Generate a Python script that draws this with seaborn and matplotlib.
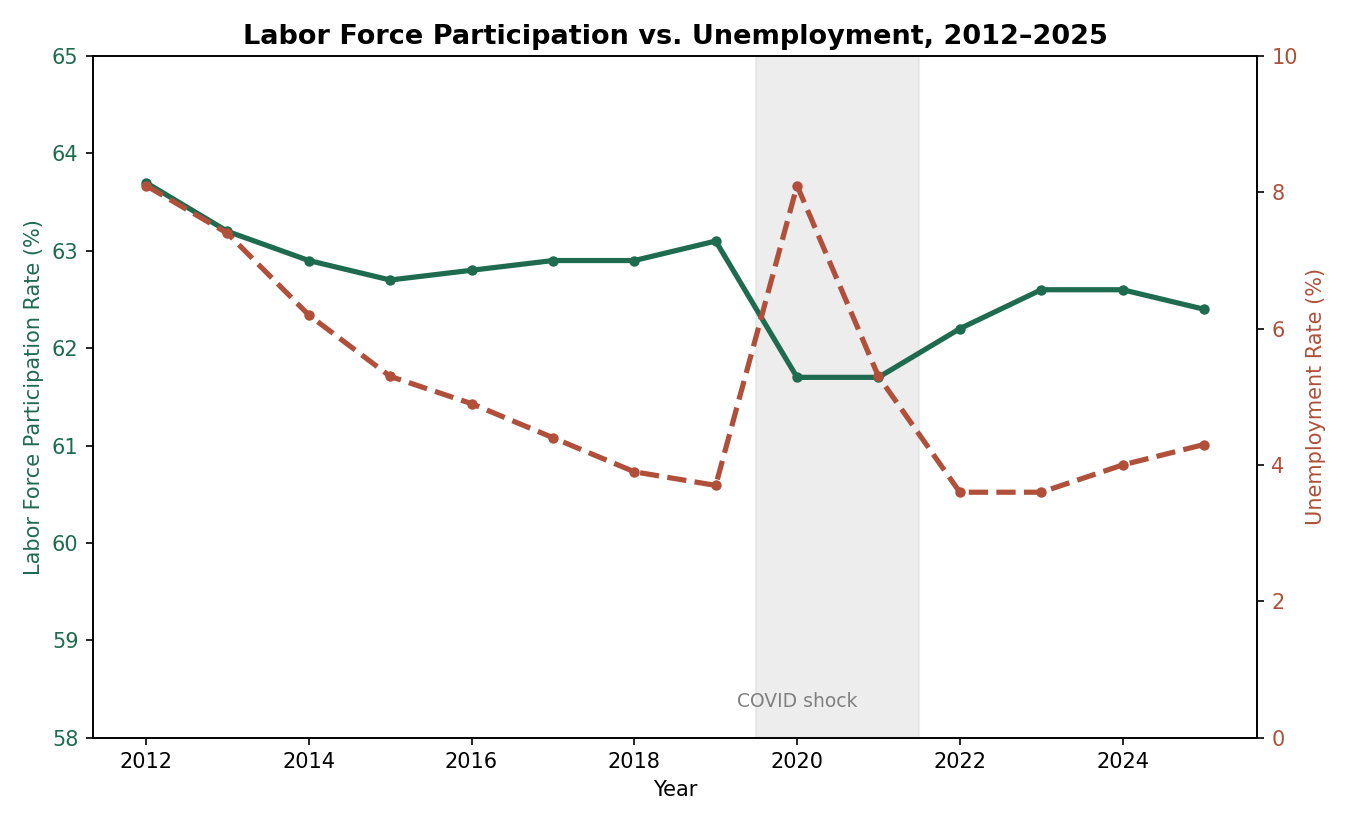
import matplotlib
matplotlib.use("Agg")
import matplotlib.pyplot as plt
import pandas as pd
import seaborn as sns

years = [2012, 2013, 2014, 2015, 2016, 2017, 2018, 2019, 2020, 2021, 2022, 2023, 2024, 2025]
participation = [63.7, 63.2, 62.9, 62.7, 62.8, 62.9, 62.9, 63.1, 61.7, 61.7, 62.2, 62.6, 62.6, 62.4]
unemployment = [8.1, 7.4, 6.2, 5.3, 4.9, 4.4, 3.9, 3.7, 8.1, 5.3, 3.6, 3.6, 4.0, 4.3]

GREEN = "#1f6b4f"
RED = "#b0503a"

df = pd.DataFrame({"Year": years, "lfpr": participation, "unemp": unemployment})

# plain matplotlib-like look: black text, thin spines, short ticks
sns.set_theme(style="ticks", rc={
    "axes.edgecolor": "black",
    "axes.linewidth": 0.8,
    "text.color": "black",
    "axes.labelcolor": "black",
    "xtick.color": "black",
    "ytick.color": "black",
    "xtick.major.size": 3.5,
    "ytick.major.size": 3.5,
    "xtick.major.width": 0.8,
    "ytick.major.width": 0.8,
})
plt.rcParams["font.family"] = ["DejaVu Sans"]

fig, ax = plt.subplots(figsize=(9, 5.5), dpi=150)
ax2 = ax.twinx()

ax.axvspan(2019.5, 2021.5, color="#dcdcdc", alpha=0.5, zorder=0)
ax.text(2020, 58.37, "COVID shock", ha="center", va="center", color="gray", fontsize=9)

sns.lineplot(data=df, x="Year", y="lfpr", ax=ax, color=GREEN, linewidth=2.5,
             marker="o", markersize=5, markeredgewidth=0)
sns.lineplot(data=df, x="Year", y="unemp", ax=ax2, color=RED, linewidth=2.5,
             linestyle="--", marker="o", markersize=5, markeredgewidth=0)

ax.set_ylim(58, 65)
ax2.set_ylim(0, 10)
ax.set_xticks(range(2012, 2026, 2))
ax.set_xlabel("Year", fontsize=10)
ax.set_ylabel("Labor Force Participation Rate (%)", color=GREEN, fontsize=10)
ax2.set_ylabel("Unemployment Rate (%)", color=RED, fontsize=10)
ax.tick_params(axis="y", labelcolor=GREEN, labelsize=10)
ax2.tick_params(axis="y", labelcolor=RED, labelsize=10)
ax.tick_params(axis="x", labelsize=10)
ax.set_title("Labor Force Participation vs. Unemployment, 2012–2025",
             fontsize=13, fontweight="bold")

fig.subplots_adjust(left=0.069, right=0.931, top=0.932, bottom=0.106)
fig.savefig("out.png", dpi=150)
